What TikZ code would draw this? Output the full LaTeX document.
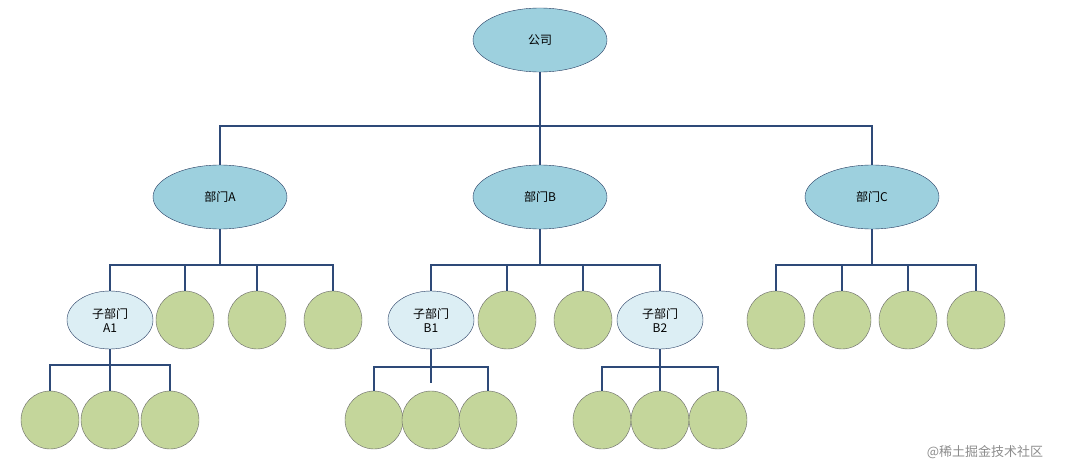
\documentclass[tikz,border=0pt]{standalone}
\usepackage{fontspec}
\setmainfont{Noto Sans CJK SC}
\usetikzlibrary{shapes.geometric}
\definecolor{linec}{HTML}{2E4A78}
\definecolor{deptfill}{HTML}{9DD0DE}
\definecolor{subfill}{HTML}{DCEEF4}
\definecolor{leaffill}{HTML}{C4D69B}
\tikzset{dept/.style={ellipse, draw=linec!80!black, fill=deptfill, minimum width=134pt, minimum height=64pt, inner sep=0pt, font=\fontsize{12}{14}\selectfont},
  sub/.style={ellipse, draw=linec!80!black, fill=subfill, minimum width=86pt, minimum height=58pt, inner sep=0pt, align=center, font=\fontsize{12}{14}\selectfont},
  leaf/.style={circle, draw=black!60, fill=leaffill, minimum size=58pt, inner sep=0pt},
  conn/.style={draw=linec, line width=1.2pt}}

\begin{document}
\begin{tikzpicture}[x=1pt, y=-1pt]
  \useasboundingbox (0,0) rectangle (1080,476);
  % top levels
  \node[dept] (co) at (540,40) {公司};
  \node[dept] (dA) at (220,197) {部门A};
  \node[dept] (dB) at (540,197) {部门B};
  \node[dept] (dC) at (872,197) {部门C};
  \foreach \d in {dA,dB,dC}
    \draw[conn] (co.south) -- (co.south |- 0,126) -| (\d.north);

  % second level
  \node[sub] (sA1) at (110,320) {子部门\\A1};
  \node[sub] (sB1) at (431,320) {子部门\\B1};
  \node[sub] (sB2) at (660,320) {子部门\\B2};
  \foreach \x/\n in {185/a2,257/a3,333/a4} \node[leaf] (\n) at (\x,320) {};
  \foreach \x/\n in {507/b2,583/b3} \node[leaf] (\n) at (\x,320) {};
  \foreach \x/\n in {776/c1,842/c2,908/c3,976/c4} \node[leaf] (\n) at (\x,320) {};
  \foreach \c in {sA1,a2,a3,a4}
    \draw[conn] (dA.south) -- (dA.south |- 0,265) -| (\c.north);
  \foreach \c in {sB1,b2,b3,sB2}
    \draw[conn] (dB.south) -- (dB.south |- 0,265) -| (\c.north);
  \foreach \c in {c1,c2,c3,c4}
    \draw[conn] (dC.south) -- (dC.south |- 0,265) -| (\c.north);

  % third level
  \foreach \x/\n in {50/l1,110/l2,170/l3} \node[leaf] (\n) at (\x,420) {};
  \foreach \x/\n in {374/m1,431/m2,488/m3} \node[leaf] (\n) at (\x,420) {};
  \foreach \x/\n in {602/n1,660/n2,718/n3} \node[leaf] (\n) at (\x,420) {};
  \foreach \c in {l1,l2,l3}
    \draw[conn] (sA1.south) -- (sA1.south |- 0,365) -| (\c.north);
  \foreach \c in {m1,m3}
    \draw[conn] (sB1.south) -- (sB1.south |- 0,367) -| (\c.north);
  \coordinate (tick) at (431,383);
  \draw[conn] (sB1.south) -- (tick);
  \foreach \c in {n1,n2,n3}
    \draw[conn] (sB2.south) -- (sB2.south |- 0,367) -| (\c.north);

  \node[text=black!45, font=\fontsize{13}{15}\selectfont] (wm) at (985,452) {@稀土掘金技术社区};
\end{tikzpicture}
\end{document}
